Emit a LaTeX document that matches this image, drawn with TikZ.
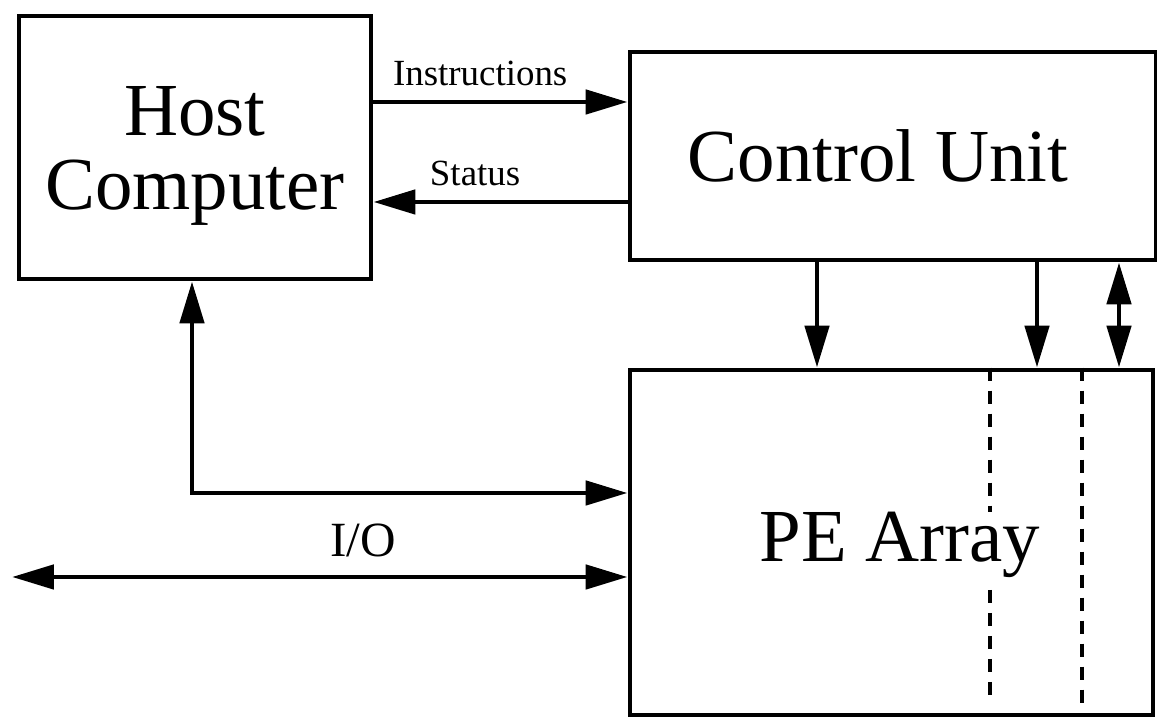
\documentclass[tikz,border=0pt]{standalone}
\usepackage{fontspec}
\setmainfont{Liberation Serif}
\usetikzlibrary{arrows.meta}

\tikzset{
  block/.style={draw,line width=1.4pt,inner sep=0pt,align=center,font=\fontsize{21.3}{21.3}\selectfont},
  big/.style={align=center,font=\fontsize{21.3}{21.3}\selectfont},
  link/.style={line width=1.4pt,-{Triangle[length=4.2mm,width=2.4mm]}},
  twolink/.style={line width=1.4pt,{Triangle[length=4.2mm,width=2.4mm]}-{Triangle[length=4.2mm,width=2.4mm]}},
  tag/.style={font=\fontsize{10.5}{12}\selectfont,inner sep=1pt},
  cut/.style={line width=1.2pt,dash pattern=on 1.3mm off 1mm}
}

\begin{document}
\begin{tikzpicture}
\useasboundingbox (0,0) rectangle (11.57,-7.2);
\node[block,minimum width=3.52cm,minimum height=2.63cm] (host) at (1.95,-1.475) {};
\node[big] (hostlabel) at (1.95,-1.56) {Host\\Computer};
\node[block,minimum width=5.26cm,minimum height=2.08cm] (cu) at (8.93,-1.56) {\hspace*{-3mm}Control Unit};
\node[block,minimum width=5.23cm,minimum height=3.45cm] (pe) at (8.915,-5.425) {};
\node[big] (pelabel) at (9.0,-5.45) {PE Array};
% host <-> control unit
\draw[link] ([yshift=4.55mm]host.east) -- ([yshift=4.55mm]host.east -| cu.west) node[pos=0.42,above=3pt,tag] {Instructions};
\draw[link] ([yshift=-5.45mm]host.east -| cu.west) -- ([yshift=-5.45mm]host.east) node[pos=0.6,above=3pt,tag] {Status};
% control unit -> PE array
\draw[link] ([xshift=-7.6mm]cu.south) -- ([xshift=-7.6mm]cu.south |- pe.north);
\draw[link] ([xshift=14.4mm]cu.south) -- ([xshift=14.4mm]cu.south |- pe.north);
\draw[twolink] ([xshift=22.6mm]cu.south) -- ([xshift=22.6mm]cu.south |- pe.north);
% host <-> PE array, I/O
\draw[twolink] ([xshift=-0.3mm]host.south) |- ([yshift=4.95mm]pe.west);
\coordinate (ioend) at (0.12,-5.77);
\draw[twolink] (ioend) -- (ioend -| pe.west) node[pos=0.57,above=4pt,font=\fontsize{14}{16}\selectfont,inner sep=1pt] (io) {I/O};
% dashed columns
\draw[cut] (pe.north -| 9.9,0) -- (9.9,-5.12);
\draw[cut] (9.9,-5.9) -- (9.9,-7.03);
\draw[cut] (pe.north -| 10.82,0) -- (10.82,-7.03);
\end{tikzpicture}
\end{document}
